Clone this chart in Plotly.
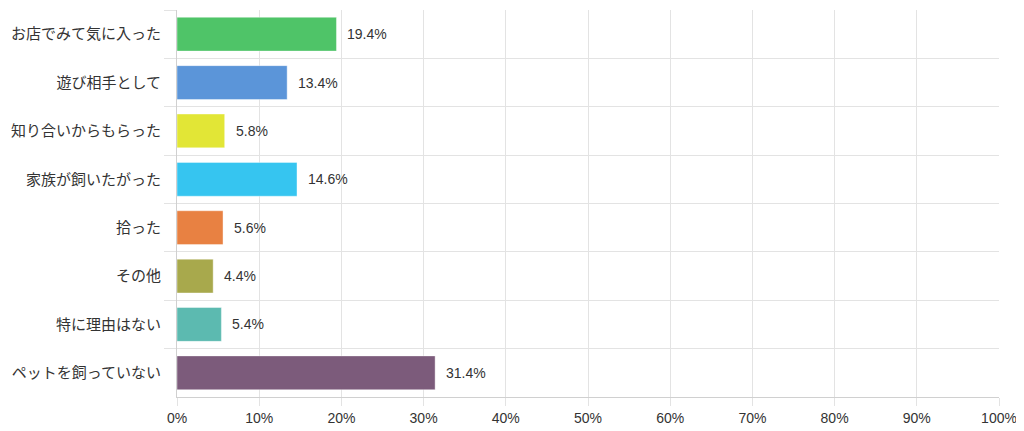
import plotly.graph_objects as go

# Reasons for keeping a pet (percent)
categories = ["お店でみて気に入った", "遊び相手として", "知り合いからもらった", "家族が飼いたがった",
              "拾った", "その他", "特に理由はない", "ペットを飼っていない"]
values = [19.4, 13.4, 5.8, 14.6, 5.6, 4.4, 5.4, 31.4]
colors = ["#4fc468", "#5b95d9", "#e2e636", "#36c5f0", "#e88142", "#a8a94c", "#5cbab0", "#7c5b7b"]
x_ticks = [0, 10, 20, 30, 40, 50, 60, 70, 80, 90, 100]

fig = go.Figure()
fig.add_trace(go.Bar(
    x=values,
    y=categories,
    orientation="h",
    marker=dict(color=colors, line=dict(color="rgba(255,255,255,0.4)", width=1)),
    width=0.7,
))

# value labels just right of each bar
for cat, v in zip(categories, values):
    fig.add_annotation(x=v, y=cat, text=f"{v}%", showarrow=False,
                       xanchor="left", xshift=9,
                       font=dict(size=14, color="#333333"))

# page body has an 8px margin, so the figure is sized to fit the window
fig.update_layout(
    width=1016, height=423,
    margin=dict(l=169, r=25, t=2, b=34),
    plot_bgcolor="white",
    paper_bgcolor="white",
    font=dict(family="Arial, Liberation Sans, Noto Sans CJK JP", size=14, color="#333333"),
    showlegend=False,
)
fig.update_xaxes(
    range=[0, 100],
    tickvals=x_ticks,
    ticktext=[f"{t}%" for t in x_ticks],
    tickfont=dict(size=14),
    showgrid=True, gridcolor="#e3e3e3", gridwidth=1,
    showline=True, linecolor="#d0d0d0",
    ticks="outside", ticklen=8, tickcolor="#e3e3e3",
    zeroline=False,
    fixedrange=True,
)
fig.update_yaxes(
    type="category",
    autorange="reversed",
    tickson="boundaries",
    tickfont=dict(size=15),
    showgrid=True, gridcolor="#e3e3e3", gridwidth=1,
    showline=True, linecolor="#d0d0d0",
    ticks="outside", ticklen=12, tickcolor="#e3e3e3",
    ticklabelstandoff=12,
    fixedrange=True,
)

fig.write_html("out.html")
